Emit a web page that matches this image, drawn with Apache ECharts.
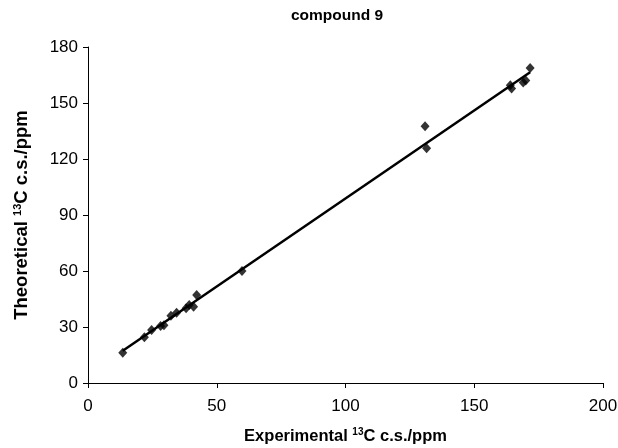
<!DOCTYPE html>
<html>
<head>
<meta charset="utf-8">
<script src="https://cdn.jsdelivr.net/npm/echarts@6/dist/echarts.min.js"></script>
<style>
  html, body { margin: 0; padding: 0; background: #fff; }
  #chart { width: 618px; height: 448px; }
</style>
</head>
<body>
<div id="chart"></div>
<script>
// measured shifts (ppm)
const experimental = [13.5, 21.9, 24.7, 28.2, 29.5, 32.2, 34.4, 38.1, 39.3, 41.0, 42.2, 59.8, 130.9, 131.5, 164.0, 164.5, 169.0, 170.0, 171.7];
const theoretical = [16.2, 24.5, 28.4, 30.5, 31.0, 36.0, 37.7, 40.0, 41.8, 40.9, 47.1, 60.0, 137.5, 125.7, 159.5, 157.8, 161.0, 162.0, 168.8];
const xTicks = [0, 50, 100, 150, 200];
const yTicks = [0, 30, 60, 90, 120, 150, 180];

// least squares trendline over the points
function fitLine(xs, ys) {
  const n = xs.length;
  const mx = xs.reduce((a, b) => a + b, 0) / n;
  const my = ys.reduce((a, b) => a + b, 0) / n;
  let sxy = 0, sxx = 0;
  for (let i = 0; i < n; i++) {
    sxy += (xs[i] - mx) * (ys[i] - my);
    sxx += (xs[i] - mx) * (xs[i] - mx);
  }
  const slope = sxy / sxx;
  return { slope, intercept: my - slope * mx };
}

const fit = fitLine(experimental, theoretical);
const xMin = Math.min(...experimental);
const xMax = Math.max(...experimental);
const trend = [xMin, xMax].map(x => [x, fit.intercept + fit.slope * x]);

const chart = echarts.init(document.getElementById('chart'));

const FONT = 'Liberation Sans, Arial, sans-serif';
const axisFont = { color: '#000', fontFamily: FONT, fontSize: 17 };
const richFor = (size) => ({
  a: { fontFamily: FONT, fontWeight: 'bold', fontSize: size, color: '#000' },
  s: { fontFamily: FONT, fontWeight: 'bold', fontSize: Math.round(size * 0.62), color: '#000', verticalAlign: 'top', padding: [0, 0, 8, 0] }
});

chart.setOption({
  animation: false,
  backgroundColor: '#fff',
  title: {
    text: 'compound 9',
    left: 332,
    top: 3,
    textAlign: 'center',
    textStyle: { fontFamily: FONT, fontWeight: 'bold', fontSize: 15.5, color: '#000' }
  },
  grid: { left: 88, right: 15, top: 47, bottom: 65, outerBoundsMode: 'none', containLabel: false },
  xAxis: {
    type: 'value',
    min: xTicks[0],
    max: xTicks[xTicks.length - 1],
    interval: 50,
    name: '{a|Experimental }{s|13}{a|C c.s./ppm}',
    nameLocation: 'middle',
    nameGap: 44,
    nameTextStyle: { rich: richFor(16.5) },
    axisLine: { lineStyle: { color: '#000', width: 1 } },
    axisTick: { show: true, length: 5, lineStyle: { color: '#000' } },
    axisLabel: Object.assign({ margin: 15 }, axisFont),
    splitLine: { show: false }
  },
  yAxis: {
    type: 'value',
    min: yTicks[0],
    max: yTicks[yTicks.length - 1],
    interval: 30,
    name: '{a|Theoretical }{s|13}{a|C c.s./ppm}',
    nameLocation: 'middle',
    nameGap: 57,
    nameTextStyle: { rich: richFor(18.5) },
    axisLine: { show: true, lineStyle: { color: '#000', width: 1 } },
    axisTick: { show: true, length: 5, lineStyle: { color: '#000' } },
    axisLabel: Object.assign({ margin: 10 }, axisFont),
    splitLine: { show: false }
  },
  series: [
    {
      type: 'line',
      data: trend,
      symbol: 'none',
      lineStyle: { color: '#000', width: 2.5 },
      z: 2
    },
    {
      type: 'scatter',
      data: experimental.map((x, i) => [x, theoretical[i]]),
      symbol: 'diamond',
      symbolSize: [9, 10],
      itemStyle: { color: '#000' },
      z: 3
    }
  ]
});
</script>
</body>
</html>
